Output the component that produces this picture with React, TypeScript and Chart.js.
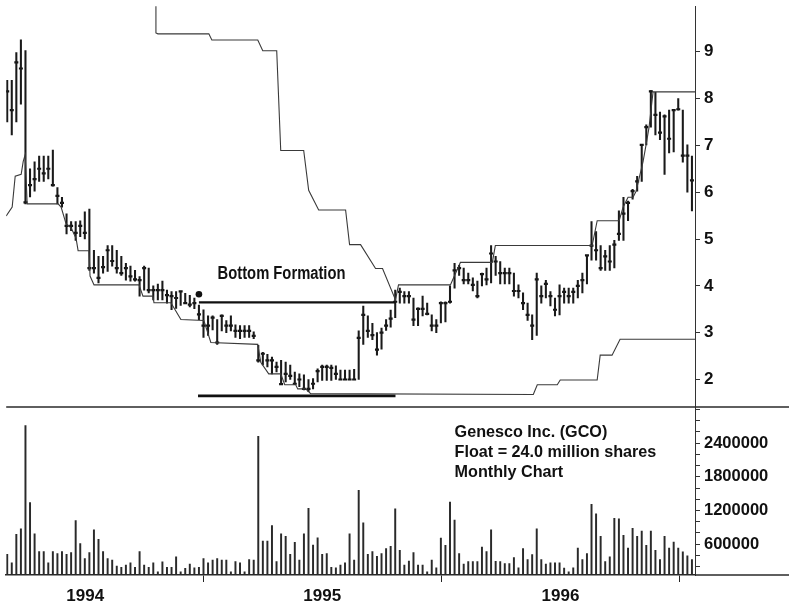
import React, { useEffect, useRef } from 'react';
import { Chart, registerables } from 'chart.js';

Chart.register(...registerables);

// Weekly bars, Genesco Inc. (GCO), Sep 1993 - Jul 1996 (x = week number)
const highs = [
  8.39, 8.39, 8.98, 9.25, 9.02, 6.50, 6.65, 6.77, 6.77, 6.77,
  6.90, 6.10, 5.89, 5.54, 5.37, 5.37, 5.39, 5.58, 5.64, 4.76,
  4.63, 4.63, 4.86, 4.86, 4.76, 4.63, 4.48, 4.42, 4.33, 4.20,
  4.42, 4.38, 4.00, 4.04, 4.10, 3.91, 3.88, 3.88, 3.88, 3.84,
  3.80, 3.74, 3.59, 3.49, 3.36, 3.36, 3.28, 3.38, 3.26, 3.36,
  3.17, 3.15, 3.15, 3.15, 3.02, 2.73, 2.58, 2.54, 2.48, 2.37,
  2.41, 2.37, 2.31, 2.16, 2.12, 2.10, 2.00, 2.02, 2.23, 2.31,
  2.31, 2.31, 2.29, 2.20, 2.20, 2.20, 2.22, 3.04, 3.57, 3.36,
  3.20, 3.00, 3.10, 3.28, 3.48, 3.91, 3.95, 3.88, 3.88, 3.74,
  3.53, 3.78, 3.63, 3.38, 3.28, 3.66, 3.66, 4.00, 4.48, 4.44,
  4.38, 4.27, 4.17, 4.10, 4.27, 4.38, 4.86, 4.63, 4.52, 4.38,
  4.38, 4.27, 4.02, 3.85, 3.63, 3.38, 4.27, 4.00, 4.12, 3.88,
  3.74, 4.02, 3.95, 3.95, 3.95, 4.12, 4.27, 4.65, 5.37, 5.16,
  4.86, 4.76, 4.86, 4.97, 5.60, 5.89, 5.81, 6.06, 6.34, 7.01,
  7.44, 8.17, 8.13, 7.71, 7.65, 7.75, 7.75, 8.00, 7.75, 7.01,
  6.77,
];
const lows = [
  7.50, 7.22, 7.50, 7.88, 5.75, 5.90, 6.02, 6.23, 6.23, 6.28,
  6.13, 5.75, 5.68, 5.11, 5.18, 4.97, 5.05, 5.00, 4.33, 4.27,
  4.06, 4.27, 4.31, 4.42, 4.27, 4.22, 4.12, 4.10, 4.10, 3.78,
  3.91, 3.85, 3.70, 3.70, 3.70, 3.63, 3.49, 3.52, 3.58, 3.63,
  3.55, 3.51, 3.28, 2.90, 2.94, 3.06, 2.75, 3.04, 3.00, 3.04,
  2.90, 2.87, 2.90, 2.90, 2.87, 2.37, 2.31, 2.27, 2.12, 2.16,
  1.89, 1.95, 2.00, 1.89, 1.85, 1.78, 1.74, 1.80, 1.95, 1.98,
  1.98, 1.98, 2.00, 2.00, 2.00, 2.00, 2.00, 2.00, 2.75, 2.90,
  2.85, 2.52, 2.65, 3.05, 3.12, 3.32, 3.63, 3.63, 3.63, 3.15,
  3.15, 3.36, 3.38, 3.04, 3.00, 3.21, 3.23, 3.63, 3.95, 4.22,
  4.04, 4.04, 3.89, 3.74, 4.00, 4.02, 4.06, 4.22, 4.04, 4.04,
  4.04, 3.78, 3.74, 3.49, 3.26, 2.85, 2.94, 3.63, 3.74, 3.57,
  3.36, 3.38, 3.63, 3.63, 3.63, 3.74, 3.85, 4.04, 4.55, 4.55,
  4.33, 4.33, 4.33, 4.38, 4.97, 4.97, 5.39, 5.85, 6.02, 6.23,
  7.01, 7.39, 7.22, 7.12, 6.38, 6.84, 6.86, 7.75, 6.64, 6.00,
  5.60,
];
const closes = [
  8.15, 7.75, 8.77, 8.64, 5.78, 6.15, 6.28, 6.50, 6.40, 6.50,
  6.15, 5.92, 5.77, 5.28, 5.28, 5.13, 5.28, 5.13, 4.38, 4.38,
  4.17, 4.40, 4.76, 4.53, 4.38, 4.27, 4.38, 4.20, 4.14, 4.12,
  4.38, 3.91, 3.91, 3.91, 3.91, 3.80, 3.78, 3.74, 3.88, 3.63,
  3.60, 3.63, 3.39, 3.15, 3.15, 3.32, 2.79, 3.36, 3.15, 3.15,
  3.04, 3.04, 3.04, 3.04, 2.93, 2.41, 2.55, 2.41, 2.41, 2.27,
  1.90, 2.12, 2.08, 1.91, 2.00, 1.80, 1.80, 1.91, 2.18, 2.27,
  2.27, 2.25, 2.12, 2.00, 2.00, 2.00, 2.00, 2.89, 3.38, 3.04,
  2.95, 2.64, 3.00, 3.15, 3.30, 3.66, 3.87, 3.78, 3.78, 3.28,
  3.51, 3.51, 3.40, 3.15, 3.15, 3.63, 3.63, 3.66, 4.33, 4.38,
  4.12, 4.12, 4.02, 3.78, 4.25, 4.14, 4.69, 4.52, 4.27, 4.27,
  4.27, 3.89, 3.89, 3.63, 3.38, 3.15, 4.14, 3.78, 4.04, 3.78,
  3.49, 3.78, 3.87, 3.78, 3.87, 4.00, 4.12, 4.65, 4.86, 4.76,
  4.38, 4.63, 4.52, 4.88, 5.11, 5.54, 5.77, 6.02, 6.23, 7.01,
  7.39, 8.15, 7.65, 7.27, 7.62, 7.14, 7.75, 7.77, 6.78, 6.78,
  6.25,
];
const volumes = [
  422000, 270000, 774000, 874000, 2710000, 1340000, 786000, 470000, 470000, 270000,
  470000, 434000, 470000, 422000, 452000, 1020000, 610000, 346000, 452000, 857000,
  686000, 470000, 346000, 317000, 211000, 188000, 229000, 270000, 188000, 470000,
  229000, 188000, 270000, 111000, 287000, 188000, 188000, 375000, 111000, 170000,
  246000, 182000, 188000, 346000, 270000, 317000, 346000, 317000, 317000, 111000,
  293000, 270000, 111000, 329000, 317000, 2520000, 657000, 657000, 932000, 293000,
  786000, 739000, 422000, 633000, 317000, 786000, 1240000, 586000, 716000, 422000,
  434000, 188000, 182000, 229000, 270000, 786000, 317000, 1560000, 980000, 422000,
  470000, 387000, 434000, 522000, 563000, 1230000, 493000, 229000, 299000, 452000,
  229000, 229000, 111000, 317000, 182000, 710000, 580000, 1350000, 1030000, 434000,
  246000, 293000, 293000, 293000, 551000, 470000, 857000, 296000, 293000, 258000,
  258000, 364000, 182000, 522000, 329000, 417000, 874000, 329000, 246000, 270000,
  270000, 270000, 176000, 111000, 182000, 533000, 329000, 434000, 1310000, 1140000,
  739000, 293000, 375000, 1060000, 1050000, 757000, 533000, 885000, 739000, 832000,
  580000, 832000, 493000, 329000, 739000, 533000, 639000, 533000, 463000, 392000,
  329000,
];

// 52-week low / high envelope lines (week number, price)
const lowLine = [
  { x: -0.22, y: 5.49 }, { x: 1.09, y: 5.68 }, { x: 1.75, y: 6.34 }, { x: 3.06, y: 6.38 },
  { x: 3.5, y: 6.65 }, { x: 3.94, y: 6.8 }, { x: 4.37, y: 5.75 }, { x: 11.15, y: 5.75 },
  { x: 11.81, y: 5.68 }, { x: 12.9, y: 5.32 }, { x: 14.0, y: 5.24 }, { x: 15.09, y: 5.01 },
  { x: 15.53, y: 4.75 }, { x: 17.93, y: 4.75 }, { x: 18.15, y: 4.21 }, { x: 19.02, y: 4.02 },
  { x: 28.87, y: 4.02 }, { x: 29.74, y: 3.78 }, { x: 31.93, y: 3.78 }, { x: 32.15, y: 3.64 },
  { x: 35.86, y: 3.64 }, { x: 38.05, y: 3.28 }, { x: 43.08, y: 3.26 }, { x: 44.61, y: 2.79 },
  { x: 54.89, y: 2.75 }, { x: 55.54, y: 2.37 }, { x: 57.29, y: 2.12 }, { x: 59.92, y: 2.12 },
  { x: 60.8, y: 1.89 }, { x: 63.2, y: 1.89 }, { x: 63.64, y: 1.8 }, { x: 65.39, y: 1.8 },
  { x: 66.48, y: 1.7 }, { x: 115.25, y: 1.68 }, { x: 116.12, y: 1.89 }, { x: 120.5, y: 1.89 },
  { x: 121.15, y: 1.99 }, { x: 129.24, y: 1.99 }, { x: 129.9, y: 2.52 }, { x: 132.5, y: 2.52 },
  { x: 134.26, y: 2.86 }, { x: 150.67, y: 2.86 },
];
const highLine = [
  { x: 32.58, y: 10.4 }, { x: 32.58, y: 9.4 }, { x: 33.02, y: 9.38 }, { x: 44.17, y: 9.38 },
  { x: 44.83, y: 9.25 }, { x: 54.89, y: 9.25 }, { x: 55.98, y: 9.02 }, { x: 59.04, y: 9.02 },
  { x: 59.92, y: 6.89 }, { x: 64.95, y: 6.89 }, { x: 66.04, y: 6.04 }, { x: 68.23, y: 5.62 },
  { x: 74.13, y: 5.62 }, { x: 75.0, y: 4.88 }, { x: 77.41, y: 4.88 }, { x: 80.69, y: 4.37 },
  { x: 82.22, y: 4.37 }, { x: 85.06, y: 3.7 }, { x: 85.72, y: 4.02 }, { x: 97.09, y: 4.02 },
  { x: 99.28, y: 4.5 }, { x: 106.27, y: 4.5 }, { x: 106.93, y: 4.86 }, { x: 128.14, y: 4.86 },
  { x: 129.24, y: 5.39 }, { x: 134.05, y: 5.39 }, { x: 134.92, y: 5.68 }, { x: 136.0, y: 5.89 },
  { x: 137.1, y: 5.89 }, { x: 137.76, y: 6.02 }, { x: 138.63, y: 6.38 }, { x: 139.29, y: 6.65 },
  { x: 139.95, y: 7.01 }, { x: 140.61, y: 7.39 }, { x: 141.48, y: 8.14 }, { x: 150.67, y: 8.14 },
];
const formationTop = [{ x: 42.0, y: 3.645 }, { x: 85.06, y: 3.645 }];
const formationBottom = [{ x: 41.8, y: 1.65 }, { x: 85.06, y: 1.65 }];
const formationMarker = [{ x: 42.0, y: 3.82 }];
const formationLabel = { text: 'Bottom Formation', x: 60.1, y: 4.25 };
const infoLines = ['Genesco Inc. (GCO)', 'Float = 24.0 million shares', 'Monthly Chart'];
const infoX = 98.0;
const infoVolY = [2587000, 2235000, 1883000];

const yearTickPos = [17.1, 69.0, 121.2];
const yearLabels = ['1994', '1995', '1996'];
const priceTicks = [2, 3, 4, 5, 6, 7, 8, 9];
const volTicks = [
  200000, 400000, 600000, 800000, 1000000, 1200000, 1400000, 1600000,
  1800000, 2000000, 2200000, 2400000, 2600000, 2800000, 3000000,
];
const volLabelTicks = [600000, 1200000, 1800000, 2400000];

const FONT = '"Liberation Sans", Arial, Helvetica, sans-serif';

const overlayPlugin = {
  id: 'overlay',
  afterDraw(chart: any) {
    const { ctx, chartArea, scales } = chart;
    const x = scales.x;
    const y = scales.y;
    const yv = scales.yVol;
    ctx.save();
    ctx.strokeStyle = '#2a2a2a';
    ctx.lineWidth = 1.5;
    const sepY = Math.round(y.bottom);
    ctx.beginPath();
    ctx.moveTo(chartArea.left, sepY);
    ctx.lineTo(chart.width, sepY);
    ctx.stroke();
    ctx.beginPath();
    ctx.moveTo(chartArea.right, chartArea.bottom);
    ctx.lineTo(chart.width, chartArea.bottom);
    ctx.stroke();

    ctx.fillStyle = '#111';
    ctx.textBaseline = 'middle';
    ctx.textAlign = 'center';
    ctx.font = `bold 18px ${FONT}`;
    const w0 = ctx.measureText(formationLabel.text).width;
    ctx.fillText(
      formationLabel.text,
      x.getPixelForValue(formationLabel.x),
      y.getPixelForValue(formationLabel.y),
      w0 * 0.82,
    );
    ctx.textAlign = 'left';
    ctx.font = `bold 16.5px ${FONT}`;
    infoLines.forEach((t, i) => {
      const w = ctx.measureText(t).width;
      ctx.fillText(t, x.getPixelForValue(infoX), yv.getPixelForValue(infoVolY[i]), w * 0.98);
    });
    ctx.restore();
  },
};

const noPadV = (s: any) => {
  s.width = 94;
  s.paddingTop = 0;
  s.paddingBottom = 0;
};

export default function App() {
  const ref = useRef<HTMLCanvasElement | null>(null);

  useEffect(() => {
    if (!ref.current) return;
    const idx = highs.map((_, i) => i);
    const chart = new Chart(ref.current, {
      type: 'scatter',
      data: {
        datasets: [
          {
            type: 'line',
            data: lowLine,
            yAxisID: 'y',
            borderColor: '#3a3a3a',
            borderWidth: 1.1,
            pointRadius: 0,
            fill: false,
            tension: 0,
          } as any,
          {
            type: 'line',
            data: highLine,
            yAxisID: 'y',
            borderColor: '#3a3a3a',
            borderWidth: 1.1,
            pointRadius: 0,
            fill: false,
            tension: 0,
          } as any,
          {
            type: 'line',
            data: formationTop,
            yAxisID: 'y',
            borderColor: '#111',
            borderWidth: 2.2,
            pointRadius: 0,
            fill: false,
          } as any,
          {
            type: 'line',
            data: formationBottom,
            yAxisID: 'y',
            borderColor: '#111',
            borderWidth: 2.6,
            pointRadius: 0,
            fill: false,
          } as any,
          {
            type: 'bar',
            data: idx.map((i) => ({ x: i, y: [lows[i], highs[i]] })),
            yAxisID: 'y',
            backgroundColor: '#1a1a1a',
            barThickness: 1.4,
            grouped: false,
          } as any,
          {
            type: 'scatter',
            data: idx.map((i) => ({ x: i, y: closes[i] })),
            yAxisID: 'y',
            pointStyle: 'line',
            pointRadius: 2,
            borderColor: '#111',
            borderWidth: 2.2,
          } as any,
          {
            type: 'scatter',
            data: formationMarker,
            yAxisID: 'y',
            pointStyle: 'circle',
            pointRadius: 3.3,
            backgroundColor: '#111',
            borderColor: '#111',
            borderWidth: 0,
          } as any,
          {
            type: 'bar',
            data: idx.map((i) => ({ x: i, y: volumes[i] })),
            yAxisID: 'yVol',
            backgroundColor: '#2a2a2a',
            barThickness: 1.3,
            grouped: false,
          } as any,
        ],
      },
      options: {
        responsive: false,
        animation: false,
        events: [],
        layout: { padding: { left: 5, top: 0, right: 0, bottom: 0 } },
        plugins: { legend: { display: false }, tooltip: { enabled: false } },
        scales: {
          x: {
            type: 'linear',
            min: -0.22,
            max: 150.67,
            offset: false,
            afterBuildTicks: (s: any) => {
              s.ticks = yearTickPos.map((v) => ({ value: v }));
            },
            afterFit: (s: any) => {
              s.height = 31;
              s.paddingLeft = 0;
              s.paddingRight = 0;
            },
            grid: { display: true, drawOnChartArea: false, drawTicks: true, tickLength: 7, color: '#222', lineWidth: 1 },
            border: { display: true, color: '#2a2a2a', width: 1.5 },
            ticks: {
              autoSkip: false,
              maxRotation: 0,
              padding: 4,
              color: '#111',
              font: { family: FONT, size: 17, weight: 'bold' },
              callback: (_v: any, i: number) => yearLabels[i],
            },
          },
          y: {
            type: 'linear',
            position: 'right',
            stack: 'panes',
            stackWeight: 405,
            min: 1.417,
            max: 9.97,
            afterBuildTicks: (s: any) => {
              s.ticks = priceTicks.map((v) => ({ value: v }));
            },
            afterFit: noPadV,
            grid: { display: true, drawOnChartArea: false, drawTicks: true, tickLength: 5, color: '#333' },
            border: { display: true, color: '#333', width: 1 },
            ticks: {
              autoSkip: false,
              padding: 4,
              color: '#111',
              font: { family: FONT, size: 17, weight: 'bold' },
              callback: (v: any) => String(v),
            },
          },
          yVol: {
            type: 'linear',
            position: 'right',
            stack: 'panes',
            stackWeight: 170,
            min: 52800,
            max: 3044000,
            afterBuildTicks: (s: any) => {
              s.ticks = volTicks.map((v) => ({ value: v }));
            },
            afterFit: noPadV,
            grid: { display: true, drawOnChartArea: false, drawTicks: true, tickLength: 5, color: '#333' },
            border: { display: true, color: '#333', width: 1 },
            ticks: {
              autoSkip: false,
              padding: 4,
              color: '#111',
              font: { family: FONT, size: 16.5, weight: 'bold' },
              callback: (v: any) => (volLabelTicks.includes(v) ? String(v) : ''),
            },
          },
        },
      } as any,
      plugins: [overlayPlugin],
    });
    return () => chart.destroy();
  }, []);

  return (
    <div style={{ position: 'fixed', left: 0, top: 0, width: 789, height: 606, background: '#fff' }}>
      <canvas ref={ref} width={789} height={606} style={{ display: 'block' }} />
    </div>
  );
}
